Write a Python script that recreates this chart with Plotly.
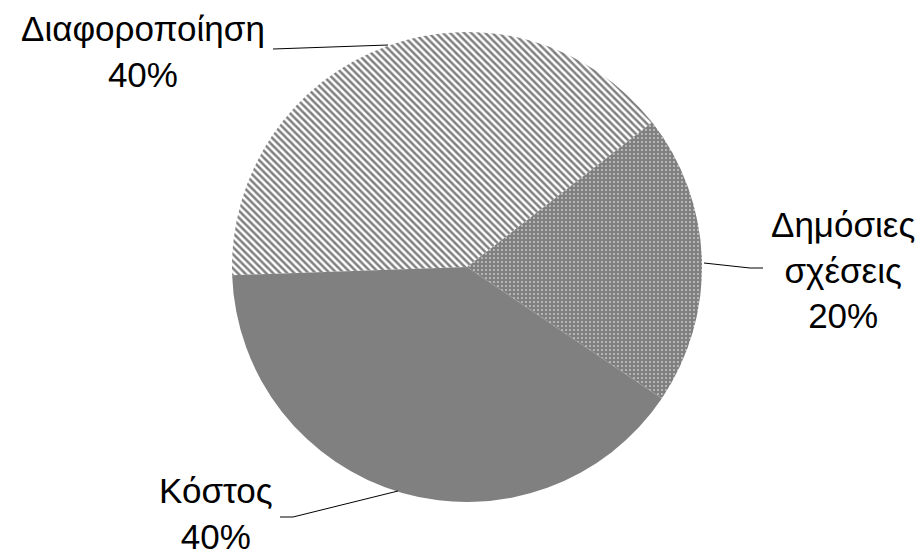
import plotly.graph_objects as go

labels = ["Διαφοροποίηση", "Δημόσιες σχέσεις", "Κόστος"]
values = [40, 20, 40]
label_lines = [["Διαφοροποίηση"], ["Δημόσιες", "σχέσεις"], ["Κόστος"]]

W, H = 923, 557
cx, cy, R = 467, 267, 235

fig = go.Figure()
fig.add_trace(go.Pie(
    labels=labels,
    values=values,
    sort=False,
    direction="clockwise",
    rotation=268,
    textinfo="none",
    hoverinfo="label+percent",
    showlegend=False,
    marker=dict(
        colors=["white", "#808080", "#808080"],
        line=dict(width=0),
        pattern=dict(
            shape=["\\", ".", ""],
            fgcolor=["#808080", "white", "#808080"],
            bgcolor=["white", "#808080", "#808080"],
            size=[5, 4, 8],
            solidity=[0.5, 0.12, 0.3],
            fillmode="replace",
        ),
    ),
    domain=dict(x=[(cx - R) / W, (cx + R) / W], y=[(H - cy - R) / H, (H - cy + R) / H]),
))

total = sum(values)
pcts = [f"{round(v / total * 100)}%" for v in values]

# label positions (pixel coords of text centre)
label_pos = [(143, 52), (843, 270), (216, 513)]
for lines, pct, (px, py) in zip(label_lines, pcts, label_pos):
    fig.add_annotation(
        x=px / W, y=1 - py / H, xref="paper", yref="paper",
        text="<br>".join(lines + [pct]), showarrow=False,
        font=dict(family="Liberation Sans, Arial, sans-serif", size=35, color="black"),
        align="center", xanchor="center", yanchor="middle",
    )

# leader lines (pixel coords)
leaders = [
    [(273, 49), (388, 45)],
    [(763, 268), (750, 268), (704, 263)],
    [(280, 517), (293, 517), (398, 491)],
]
for pts in leaders:
    path = "M " + " L ".join(f"{x / W},{1 - y / H}" for x, y in pts)
    fig.add_shape(type="path", path=path, xref="paper", yref="paper",
                  line=dict(color="black", width=1))

fig.update_layout(
    width=W, height=H,
    margin=dict(l=0, r=0, t=0, b=0),
    paper_bgcolor="white", plot_bgcolor="white",
)
fig.write_html("out.html", config={"displayModeBar": False},
               post_script="document.body.style.margin='0';")
